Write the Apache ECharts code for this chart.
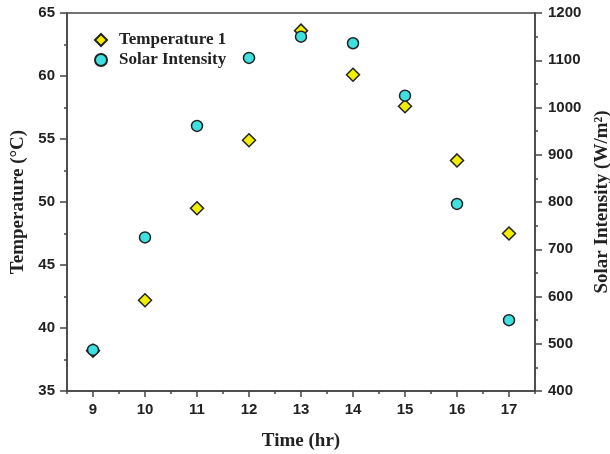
<!DOCTYPE html>
<html>
<head>
<meta charset="utf-8">
<script src="https://cdn.jsdelivr.net/npm/echarts@6/dist/echarts.min.js"></script>
<style>html,body{margin:0;padding:0;background:#fff}#c{width:610px;height:454px}</style>
</head>
<body>
<div id="c"></div>
<script>
var hours = [9, 10, 11, 12, 13, 14, 15, 16, 17];
var temperature1 = [38.2, 42.2, 49.5, 54.9, 63.6, 60.1, 57.6, 53.3, 47.5];
var solarIntensity = [487, 725, 961, 1105, 1150, 1136, 1025, 796, 550];
var xTicks = [9, 10, 11, 12, 13, 14, 15, 16, 17];
var xMinorTicks = [8.5, 9.5, 10.5, 11.5, 12.5, 13.5, 14.5, 15.5, 16.5, 17.5];
var tempTicks = [35, 40, 45, 50, 55, 60, 65];
var solarTicks = [400, 500, 600, 700, 800, 900, 1000, 1100, 1200];

var axisColor = '#444';
var titleFont = {fontFamily: 'Liberation Serif', fontWeight: 'bold', fontSize: 19, color: '#222'};
function lbl(margin) {
  return {margin: margin, fontFamily: 'Liberation Sans', fontWeight: 'bold', fontSize: 15, color: '#222',
    formatter: function (v) { return String(v); }};
}
var lineSt = {color: axisColor, width: 1.5};

var chart = echarts.init(document.getElementById('c'));
chart.setOption({
  animation: false,
  backgroundColor: '#fff',
  grid: {left: 67, right: 75, top: 13, bottom: 63, containLabel: false, outerBoundsMode: 'none',
    show: true, borderColor: axisColor, borderWidth: 1.5, backgroundColor: 'transparent'},
  legend: {
    orient: 'vertical', left: 89, top: 26, itemWidth: 12, itemHeight: 12, itemGap: 2,
    data: ['Temperature 1', 'Solar Intensity'],
    textStyle: {fontFamily: 'Liberation Serif', fontWeight: 'bold', fontSize: 17, color: '#222', padding: [0, 0, 0, 7], lineHeight: 18}
  },
  xAxis: [{
    type: 'value', min: 8.5, max: 17.5,
    name: 'Time (hr)', nameLocation: 'middle', nameGap: 41, nameTextStyle: titleFont,
    axisLine: {show: true, onZero: false, lineStyle: lineSt},
    axisTick: {show: true, length: 6, customValues: xTicks, lineStyle: lineSt},
    axisLabel: Object.assign(lbl(11), {customValues: xTicks}),
    splitLine: {show: false}
  }, {
    type: 'value', min: 8.5, max: 17.5, position: 'bottom',
    axisLine: {show: false, onZero: false},
    axisTick: {show: true, length: 3, customValues: xMinorTicks, lineStyle: lineSt},
    axisLabel: {show: false},
    splitLine: {show: false}
  }],
  yAxis: [{
    type: 'value', min: tempTicks[0], max: tempTicks[tempTicks.length - 1], interval: 5, position: 'left',
    name: 'Temperature (°C)', nameLocation: 'middle', nameGap: 38, nameTextStyle: titleFont,
    axisLine: {show: true, onZero: false, lineStyle: lineSt},
    axisTick: {show: true, length: 7, lineStyle: lineSt},
    minorTick: {show: true, splitNumber: 2, length: 3, lineStyle: lineSt},
    axisLabel: lbl(12),
    splitLine: {show: false}
  }, {
    type: 'value', min: solarTicks[0], max: solarTicks[solarTicks.length - 1], interval: 100, position: 'right',
    name: 'Solar Intensity (W/m²)', nameLocation: 'middle', nameGap: 56, nameTextStyle: titleFont,
    axisLine: {show: true, onZero: false, lineStyle: lineSt},
    axisTick: {show: true, length: 7, lineStyle: lineSt},
    minorTick: {show: true, splitNumber: 2, length: 3, lineStyle: lineSt},
    axisLabel: lbl(13),
    splitLine: {show: false}
  }],
  series: [{
    name: 'Temperature 1', type: 'scatter', xAxisIndex: 0, yAxisIndex: 0,
    symbol: 'diamond', symbolSize: 13,
    itemStyle: {color: '#f2ee00', borderColor: '#222', borderWidth: 1.5, opacity: 1},
    data: hours.map(function (h, i) { return [h, temperature1[i]]; })
  }, {
    name: 'Solar Intensity', type: 'scatter', xAxisIndex: 0, yAxisIndex: 1,
    symbol: 'circle', symbolSize: 11,
    itemStyle: {color: '#3fe0e0', borderColor: '#222', borderWidth: 1.5, opacity: 1},
    data: hours.map(function (h, i) { return [h, solarIntensity[i]]; })
  }]
});
</script>
</body>
</html>
